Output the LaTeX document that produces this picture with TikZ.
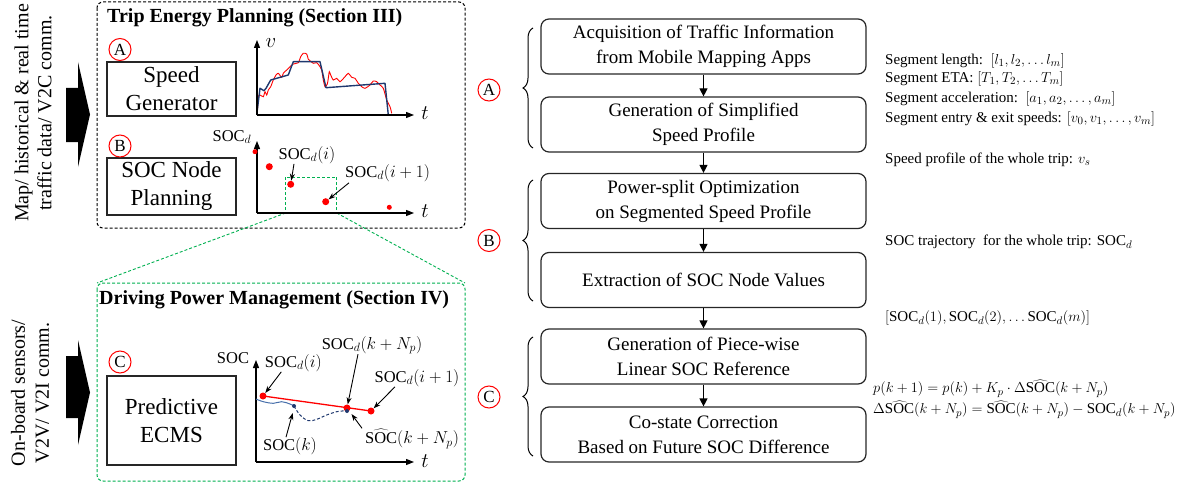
\documentclass[tikz,border=0pt]{standalone}
\usepackage{fontspec}
\setmainfont{Liberation Serif}
\usetikzlibrary{arrows.meta,decorations.pathreplacing,calc}
\definecolor{navy}{RGB}{31,56,110}
\definecolor{steelb}{RGB}{70,110,170}
\definecolor{grn}{RGB}{0,176,80}
\begin{document}
\begin{tikzpicture}[x=1pt,y=-1pt,
 flowbox/.style={draw=black!85,line width=1.2pt,rounded corners=8pt,minimum width=325pt,minimum height=55pt,align=center,font=\fontsize{19}{25}\selectfont,inner sep=0pt},
 leftbox/.style={draw=black!85,line width=1.2pt,minimum width=129pt,align=center,font=\fontsize{23}{28}\selectfont,inner sep=0pt},
 tagc/.style={draw=red,line width=1pt,circle,minimum size=22pt,inner sep=0pt,font=\fontsize{17}{17}\selectfont},
 note/.style={anchor=west,inner sep=0pt,font=\fontsize{15}{19}\selectfont},
 lbl/.style={inner sep=0pt,font=\fontsize{16.5}{18}\selectfont},
 flowarrow/.style={-{Triangle[length=8pt,width=8pt]},line width=1.2pt},
 axisarr/.style={-{Triangle[length=8pt,width=6pt]},line width=1.2pt},
 pointer/.style={-{Stealth[length=7pt,width=5pt]},line width=0.9pt},
 reddot/.style={circle,fill=red,inner sep=0pt,minimum size=7pt},
 bluedot/.style={circle,fill=navy,inner sep=0pt,minimum size=4pt},
 bracestyle/.style={decorate,decoration={brace,amplitude=10pt},line width=1pt},
 panelbox/.style={dash pattern=on 3pt off 2pt,line width=1pt,rounded corners=6pt},
 axlbl/.style={inner sep=0pt,font=\fontsize{22}{22}\selectfont},
]
\useasboundingbox (0,0) rectangle (1204,484);

% ---------- left input texts and arrows ----------
\node[rotate=90,align=center,font=\fontsize{20}{23}\selectfont,inner sep=0pt] (src1) at (33,113) {Map/ historical \& real time\\traffic data/ V2C comm.};
\node[rotate=90,align=center,font=\fontsize{20}{24}\selectfont,inner sep=0pt] (src2) at (30,393) {On-board sensors/\\V2V/ V2I comm.};
\fill (66,88) -- (78,88) -- (78,62) -- (90,114.5) -- (78,167) -- (78,142) -- (66,142) -- cycle;
\fill (66,356) -- (78,356) -- (78,340) -- (90,392.5) -- (78,445) -- (78,418) -- (66,418) -- cycle;

% ---------- panels ----------
\draw[panelbox,black] (97,2) rectangle (465,228);
\draw[panelbox,grn] (97,283) rectangle (465,481);
\node[anchor=west,inner sep=0pt,font=\bfseries\fontsize{20}{20}\selectfont] (t1) at (107,18) {Trip Energy Planning (Section III)};
\node[anchor=west,inner sep=0pt,font=\bfseries\fontsize{20}{20}\selectfont] (t2) at (99,300) {Driving Power Management (Section IV)};

\node[leftbox,minimum height=54pt] (sg) at (171.5,89) {Speed\\Generator};
\node[leftbox,minimum height=57pt] (snp) at (171.5,186.5) {SOC Node\\Planning};
\node[leftbox,minimum height=89pt] (ecms) at (171.5,420.5) {Predictive\\ECMS};
\node[tagc] (la) at (120,49.5) {A};
\node[tagc] (lb) at (120,146) {B};
\node[tagc] (lc) at (120,362) {C};

% ---------- speed chart ----------
\coordinate (o1) at (257,115);
\draw[red,line width=0.9pt] plot[smooth,tension=0.4] coordinates {(257.3,113.3)(258.3,96.7)(260,95)(263.3,96.7)(265,91.7)(266.7,95)(268.3,90)(270.7,86.7)(273.3,80)(276,75)(278.3,73.3)(281.7,77.3)(283.3,73.3)(286.7,70)(290,66.7)(293.3,64)(298.3,62.7)(300.7,56.7)(303.3,53.3)(306.7,54)(308.3,59.3)(310,60.7)(313.3,63.3)(316.7,62.7)(320,66.7)(321.7,70)(323.3,80)(325,86.7)(327.3,84)(328.3,78.3)(329.3,71.7)(330.7,75)(333.3,80)(336.7,78.3)(340,81.7)(345,76.7)(348.3,73.3)(351.7,77.3)(355,78.3)(358.3,83.3)(361.7,86.7)(365,88.3)(370,85)(373.3,81)(376.7,81.7)(380,85)(383.3,88.3)(386.7,100)(390,106.7)(391.7,113.3)};
\draw[navy,line width=1.4pt,line join=round] (256.7,115) -- (260,88.3) -- (264,90.7) -- (266,88.3) -- (270.7,80) -- (288.3,75) -- (293.3,61.7) -- (320,61.7) -- (326,87.7) -- (385,83.3) -- (388.3,115);
\draw[axisarr] (o1) -- (257,40);
\draw[axisarr] (o1) -- (414,115);
\node[axlbl] (vl) at (271,43) {$v$};
\node[axlbl] (tl1) at (425,113) {$t$};

% ---------- SOC node chart ----------
\coordinate (o2) at (257,213);
\draw[grn,dash pattern=on 3pt off 2pt,line width=1pt] (285.7,177) rectangle (336.7,213);
\coordinate (zl) at (285.7,213);
\coordinate (zr) at (336.7,213);
\draw[grn,dash pattern=on 3pt off 2pt,line width=0.9pt] (zl) -- (97,283);
\draw[grn,dash pattern=on 3pt off 2pt,line width=0.9pt] (zr) -- (465,283);
\draw[axisarr] (o2) -- (257,141);
\draw[axisarr] (o2) -- (414,213);
\node[lbl] (socdl) at (232,137) {$\mathrm{SOC}_d$};
\node[axlbl] (tl2) at (425,211) {$t$};
\node[reddot,minimum size=5pt] (d1) at (255,151.7) {};
\node[reddot] (d2) at (269.3,166.7) {};
\node[reddot] (d3) at (290.7,184.3) {};
\node[reddot] (d4) at (325.7,201.7) {};
\node[reddot,minimum size=5pt] (d5) at (389.3,207.3) {};
\node[lbl] (ld3) at (307,155) {$\mathrm{SOC}_d(i)$};
\node[lbl,anchor=west] (ld4) at (345,173) {$\mathrm{SOC}_d(i+1)$};
\draw[pointer] ([xshift=-13pt]ld3.south) -- (d3);
\draw[pointer] ([xshift=4pt,yshift=-1pt]ld4.south west) -- (d4);

% ---------- SOC reference chart ----------
\coordinate (o3) at (256,462);
\draw[axisarr] (o3) -- (256,360);
\draw[axisarr] (o3) -- (414,462);
\node[lbl] (socl) at (233,358) {$\mathrm{SOC}$};
\node[axlbl] (tl3) at (425,461) {$t$};
\draw[steelb,line width=1pt] plot[smooth,tension=0.6] coordinates {(256,399)(263.3,401.7)(273.3,403.3)(281.7,401.7)(290,404)(294,406)};
\draw[navy,line width=1pt,dash pattern=on 3pt off 2pt] plot[smooth,tension=0.6] coordinates {(294,406)(300,415)(308.3,420.7)(316.7,419.3)(326.7,415)(336.7,411.7)(346.7,410.7)};
\draw[red,line width=1.3pt] (263,396) -- (371,411);
\node[reddot] (e1) at (263,396) {};
\node[reddot] (e2) at (347,408) {};
\node[reddot] (e3) at (371,411) {};
\node[bluedot] (b1) at (294,406) {};
\node[bluedot] (b2) at (347,411) {};
\coordinate (b1p) at (292.7,413);
\coordinate (b2p) at (351.5,414);
\node[lbl] (lb1) at (293.3,363) {$\mathrm{SOC}_d(i)$};
\node[lbl] (lb2) at (372,345) {$\mathrm{SOC}_d(k+N_p)$};
\node[lbl] (lb3) at (417,378) {$\mathrm{SOC}_d(i+1)$};
\node[lbl] (lb4) at (290,446) {$\mathrm{SOC}(k)$};
\node[lbl] (lb5) at (412,439) {$\widehat{\mathrm{SOC}}(k+N_p)$};
\draw[pointer] ([xshift=-12pt]lb1.south) -- (e1);
\draw[pointer] ([xshift=-14pt]lb2.south) -- (e2);
\draw[pointer] ([xshift=-22pt]lb3.south) -- (e3);
\draw[pointer] ([xshift=-4pt]lb4.north) -- (b1p);
\draw[pointer] ([xshift=-50pt,yshift=1pt]lb5.north) -- (b2p);

% ---------- flowchart ----------
\node[flowbox] (f1) at (703.5,46.5) {Acquisition of Traffic Information\\from Mobile Mapping Apps};
\node[flowbox] (f2) at (703.5,124.5) {Generation of Simplified\\Speed Profile};
\node[flowbox] (f3) at (703.5,201) {Power-split Optimization\\on Segmented Speed Profile};
\node[flowbox] (f4) at (703.5,280) {Extraction of SOC Node Values};
\node[flowbox] (f5) at (703.5,356.5) {Generation of Piece-wise\\Linear SOC Reference};
\node[flowbox] (f6) at (703.5,434.5) {Co-state Correction\\Based on Future SOC Difference};
\draw[flowarrow] (f1) -- (f2);
\draw[flowarrow] (f2) -- (f3);
\draw[flowarrow] (f3) -- (f4);
\draw[flowarrow] (f4) -- (f5);
\draw[flowarrow] (f5) -- (f6);

\draw[bracestyle] (533,148) -- (533,28);
\draw[bracestyle] (533,301) -- (533,180);
\draw[bracestyle] (533,456) -- (533,337);
\node[tagc] (ra) at (489,90) {A};
\node[tagc] (rb) at (489,240.5) {B};
\node[tagc] (rc) at (489,397) {C};

% ---------- notes ----------
\node[note] (n1) at (885,61) {Segment length:\ \ $[l_1,l_2,\ldots l_m]$};
\node[note] (n2) at (885,79) {Segment ETA: $[T_1,T_2,\ldots T_m]$};
\node[note] (n3) at (885,99) {Segment acceleration:\ \ $[a_1,a_2,\ldots,a_m]$};
\node[note] (n4) at (885,119) {Segment entry \& exit speeds: $[v_0,v_1,\ldots,v_m]$};
\node[note] (n5) at (885,160) {Speed profile of the whole trip: $v_s$};
\node[note] (n6) at (885,242) {SOC trajectory\ \ for the whole trip: $\mathrm{SOC}_d$};
\node[note] (n7) at (885,318) {$[\mathrm{SOC}_d(1),\mathrm{SOC}_d(2),\ldots\mathrm{SOC}_d(m)]$};
\node[note,align=left,font=\fontsize{15}{21}\selectfont] (n8) at (873,399) {$p(k+1)=p(k)+K_p\cdot\Delta\widehat{\mathrm{SOC}}\bigl(k+N_p\bigr)$\\$\Delta\widehat{\mathrm{SOC}}\bigl(k+N_p\bigr)=\widehat{\mathrm{SOC}}\bigl(k+N_p\bigr)-\mathrm{SOC}_d(k+N_p)$};
\end{tikzpicture}
\end{document}
